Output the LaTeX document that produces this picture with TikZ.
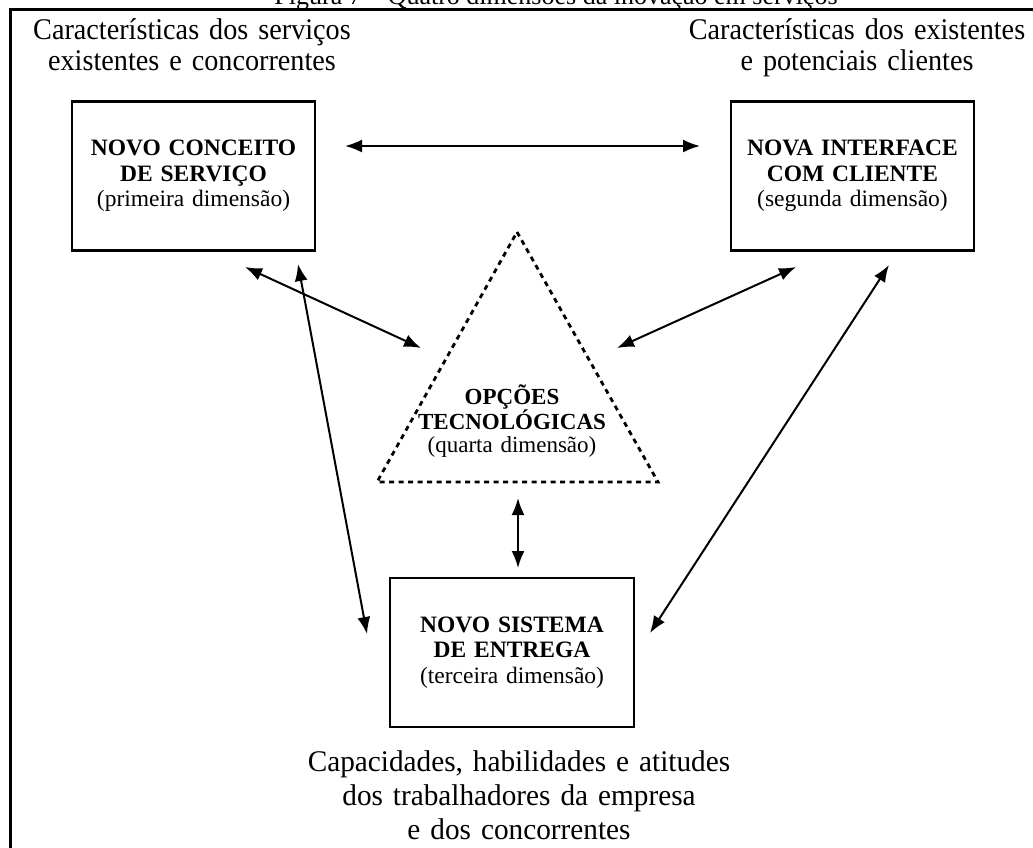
\documentclass[tikz,border=0pt]{standalone}
\usepackage{fontspec}
\setmainfont{Liberation Serif}
\newfontfamily\ctxfont{Liberation Serif}[FakeStretch=0.94]
\newfontfamily\capfont{Liberation Serif}[FakeStretch=0.975]
\usetikzlibrary{arrows.meta,calc}
\begin{document}
\begin{tikzpicture}[x=1pt,y=-1pt,
  frame/.style={line width=3pt},
  dimbox/.style={draw, line width=2.5pt, minimum width=243pt, minimum height=149pt,
    inner sep=0pt, text width=235pt, align=center, font=\fontsize{23.5}{25.5}\selectfont},
  techline/.style={line width=2.8pt, dash pattern=on 5pt off 4.5pt},
  techtext/.style={align=center, text width=260pt, anchor=base, inner sep=0pt,
    font=\fontsize{23}{23}\selectfont},
  link/.style={{Latex[length=17pt,width=13pt]}-{Latex[length=17pt,width=13pt]}, line width=2pt},
  context/.style={align=center, text width=600pt, anchor=base, inner sep=0pt,
    font=\ctxfont\fontsize{30}{30.5}\selectfont},
]
\useasboundingbox (0,0) rectangle (1033,847);

% frame and caption
\draw[frame] (1040,9.5) -- (10,9.5) -- (10,852);
\node[anchor=base, inner sep=0pt, font=\fontsize{26}{26}\selectfont] (title) at (556,4.5)
  {Figura 7 – Quatro dimensões da inovação em serviços};

% context labels
\node[context] (svc) at (192,39.5) {Características dos serviços\\existentes e concorrentes};
\node[context] (cli) at (857,39.5) {Características dos existentes\\e potenciais clientes};
\node[context, font=\capfont\fontsize{30}{34}\selectfont] (cap) at (519,771.5)
  {Capacidades, habilidades e atitudes\\dos trabalhadores da empresa\\e dos concorrentes};

% the three dimension boxes
\node[dimbox] (c1) at (193.5,176) {\textbf{NOVO CONCEITO}\\\textbf{DE SERVIÇO}\\(primeira dimensão)};
\node[dimbox] (c2) at (852.5,176) {\textbf{NOVA INTERFACE}\\\textbf{COM CLIENTE}\\(segunda dimensão)};
\node[dimbox, minimum width=244pt] (c3) at (512,652.5) {\textbf{NOVO SISTEMA}\\\textbf{DE ENTREGA}\\(terceira dimensão)};

% technology triangle
\coordinate (tA) at (517,232);
\coordinate (tL) at (377,482);
\coordinate (tR) at (658,482);
\draw[techline] (tA) -- (tR) -- (tL) -- cycle;
\node[techtext] (tech) at (512,404) {\textbf{OPÇÕES}\\\textbf{TECNOLÓGICAS}\\(quarta dimensão)};

% links between dimensions
\draw[link] ($(c1)+(151.5,-30)$) -- ($(c2)+(-152.5,-30)$);
\draw[link] ($(c1)+(51.5,91)$) -- ($(tA)+(-96,116)$);
\draw[link] ($(c2)+(-56.5,91)$) -- ($(tA)+(100,116)$);
\draw[link] ($(c1)+(104.5,88)$) -- ($(c3)+(-145,-18.5)$);
\draw[link] ($(c2)+(36.5,89)$) -- ($(c3)+(138,-19.5)$);
\draw[link] ($(c3)+(6,-154.5)$) -- ($(c3)+(6,-84.5)$);
\end{tikzpicture}
\end{document}
